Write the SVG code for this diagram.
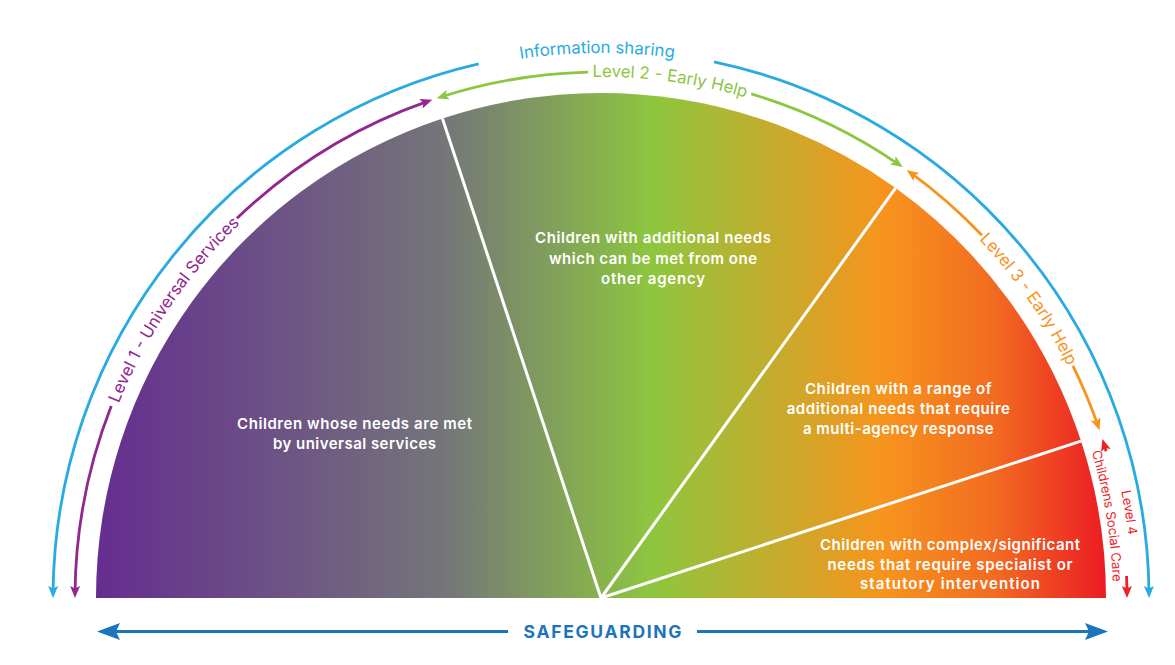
<svg xmlns="http://www.w3.org/2000/svg" width="1175" height="665" viewBox="0 0 1175 665">
<style>
.arc{fill:none;stroke-width:2.8}
.div{stroke:#fff;stroke-width:3;fill:none}
.lbl{font-family:Inter,"Noto Sans",sans-serif;font-weight:600;font-size:15px;fill:#fff;text-anchor:middle}
.cv{font-family:Inter,"Noto Sans",sans-serif;font-weight:400;font-size:16.8px;text-anchor:middle}
.sm{font-family:Inter,"Noto Sans",sans-serif;font-weight:400;font-size:13px;text-anchor:middle;fill:#ec2227}
</style>
<defs>
<linearGradient id="grad" gradientUnits="userSpaceOnUse" x1="96" y1="0" x2="1106" y2="0">
<stop offset="0" stop-color="#652d90"/>
<stop offset="0.34" stop-color="#74747a"/>
<stop offset="0.55" stop-color="#8dc63f"/>
<stop offset="0.78" stop-color="#f7941d"/>
<stop offset="0.89" stop-color="#f26b21"/>
<stop offset="1" stop-color="#ec1c24"/>
</linearGradient>
<marker id="mBlue" markerUnits="userSpaceOnUse" markerWidth="12" markerHeight="10" refX="7" refY="5" orient="auto"><path d="M0,0 L12,5 L0,10 L2.5,5 Z" fill="#29abe2"/></marker>
<marker id="mPurple" markerUnits="userSpaceOnUse" markerWidth="12" markerHeight="10" refX="7" refY="5" orient="auto"><path d="M0,0 L12,5 L0,10 L2.5,5 Z" fill="#92278f"/></marker>
<marker id="mGreen" markerUnits="userSpaceOnUse" markerWidth="12" markerHeight="10" refX="7" refY="5" orient="auto"><path d="M0,0 L12,5 L0,10 L2.5,5 Z" fill="#8dc63f"/></marker>
<marker id="mOrange" markerUnits="userSpaceOnUse" markerWidth="12" markerHeight="10" refX="7" refY="5" orient="auto"><path d="M0,0 L12,5 L0,10 L2.5,5 Z" fill="#f7941d"/></marker>
<marker id="mRed" markerUnits="userSpaceOnUse" markerWidth="12" markerHeight="10" refX="7" refY="5" orient="auto"><path d="M0,0 L12,5 L0,10 L2.5,5 Z" fill="#ec2227"/></marker>
<marker id="mSafe" markerUnits="userSpaceOnUse" markerWidth="23" markerHeight="17" refX="15" refY="8.5" orient="auto"><path d="M0,0 L23,8.5 L0,17 L4,8.5 Z" fill="#1c75bc"/></marker>
<path id="tpInfo" d="M325.21,127.93 A545 545 0 0 1 870.20,124.13"/>
<path id="tpL1" d="M88.90,507.70 A520 520 0 0 1 325.44,157.01"/>
<path id="tpL2" d="M402.46,116.31 A521 521 0 0 1 918.81,185.16"/>
<path id="tpL3" d="M821.59,126.00 A521 521 0 0 1 1120.06,553.04"/>
<path id="tpL4a" d="M1012.45,262.39 A531 531 0 0 1 1097.39,786.56"/>
<path id="tpL4b" d="M997.72,274.40 A512 512 0 0 1 1079.63,779.82"/>
</defs>

<g id="node-universal">
<path d="M601,598 L96,598 A505 505 0 0 1 442.43,118.54 Z" fill="url(#grad)"/>
<text class="lbl"><tspan x="354.5" y="429" textLength="235" lengthAdjust="spacing">Children whose needs are met</tspan><tspan x="354.5" y="448.5" textLength="163" lengthAdjust="spacing">by universal services</tspan></text>
</g>
<g id="node-one-agency">
<path d="M601,598 L442.43,118.54 A505 505 0 0 1 895.69,187.90 Z" fill="url(#grad)"/>
<text class="lbl"><tspan x="653" y="243" textLength="236" lengthAdjust="spacing">Children with additional needs</tspan><tspan x="653" y="263.5" textLength="208" lengthAdjust="spacing">which can be met from one</tspan><tspan x="653" y="284" textLength="104" lengthAdjust="spacing">other agency</tspan></text>
</g>
<g id="node-multi-agency">
<path d="M601,598 L895.69,187.90 A505 505 0 0 1 1081.01,441.11 Z" fill="url(#grad)"/>
<text class="lbl"><tspan x="898.3" y="393.5" textLength="186.7" lengthAdjust="spacing">Children with a range of</tspan><tspan x="898.3" y="413.5" textLength="223.3" lengthAdjust="spacing">additional needs that require</tspan><tspan x="898.3" y="433.5" textLength="190.7" lengthAdjust="spacing">a multi-agency response</tspan></text>
</g>
<g id="node-complex">
<path d="M601,598 L1081.01,441.11 A505 505 0 0 1 1106,598 Z" fill="url(#grad)"/>
<text class="lbl" font-size="15.5"><tspan x="950" y="550" textLength="260" lengthAdjust="spacing">Children with complex/significant</tspan><tspan x="950" y="569.5" textLength="245" lengthAdjust="spacing">needs that require specialist or</tspan><tspan x="950" y="589" textLength="180" lengthAdjust="spacing">statutory intervention</tspan></text>
</g>
<g id="dividers">
<line class="div" x1="601" y1="598" x2="442.43" y2="118.54"/>
<line class="div" x1="601" y1="598" x2="895.69" y2="187.90"/>
<line class="div" x1="601" y1="598" x2="1081.01" y2="441.11"/>
</g>

<g id="connectors">
<path class="arc" stroke="#29abe2" stroke-width="2.5" d="M478.66,63.83 A548 548 0 0 0 53.02,593.03" marker-end="url(#mBlue)"/>
<path class="arc" stroke="#29abe2" stroke-width="2.5" d="M714.00,61.80 A548 548 0 0 1 1148.98,593.03" marker-end="url(#mBlue)"/>
<path class="arc" stroke="#92278f" d="M236.93,218.35 A526 526 0 0 1 427.58,101.41" marker-end="url(#mPurple)"/>
<path class="arc" stroke="#92278f" d="M111.26,406.07 A526 526 0 0 0 75.02,593.00" marker-end="url(#mPurple)"/>
<path class="arc" stroke="#8dc63f" d="M588.15,72.16 A526 526 0 0 0 441.46,96.78" marker-end="url(#mGreen)"/>
<path class="arc" stroke="#8dc63f" d="M751.27,93.92 A526 526 0 0 1 898.61,164.29" marker-end="url(#mGreen)"/>
<path class="arc" stroke="#f7941d" d="M981.96,235.30 A526 526 0 0 0 910.78,172.89" marker-end="url(#mOrange)"/>
<path class="arc" stroke="#f7941d" d="M1072.96,365.77 A526 526 0 0 1 1097.91,425.50" marker-end="url(#mOrange)"/>
<path class="arc" stroke="#ec2227" d="M1106.11,451.25 A526 526 0 0 0 1103.87,443.74" marker-end="url(#mRed)"/>
<path class="arc" stroke="#ec2227" d="M1126.54,575.97 A526 526 0 0 1 1126.98,593.00" marker-end="url(#mRed)"/>
<path class="arc" stroke="#1c75bc" stroke-width="4" d="M508,631.5 L105,631.5" marker-end="url(#mSafe)"/>
<path class="arc" stroke="#1c75bc" stroke-width="4" d="M697,631.5 L1100,631.5" marker-end="url(#mSafe)"/>
</g>

<g id="arc-labels">
<text class="cv" fill="#29abe2" font-size="17.5"><textPath href="#tpInfo" startOffset="50%">Information sharing</textPath></text>
<text class="cv" fill="#92278f"><textPath href="#tpL1" startOffset="50%">Level 1 - Universal Services</textPath></text>
<text class="cv" fill="#8dc63f"><textPath href="#tpL2" startOffset="50%">Level 2 - Early Help</textPath></text>
<text class="cv" fill="#f7941d"><textPath href="#tpL3" startOffset="50%">Level 3 - Early Help</textPath></text>
<text class="sm"><textPath href="#tpL4a" startOffset="50%">Level 4</textPath></text>
<text class="sm"><textPath href="#tpL4b" startOffset="50%">Childrens Social Care</textPath></text>
</g>

<g id="safeguarding">
<text x="602.5" y="637.5" font-family="Inter,'Noto Sans',sans-serif" font-weight="700" font-size="17.5" fill="#1c75bc" text-anchor="middle" textLength="158" lengthAdjust="spacing">SAFEGUARDING</text>
</g>
</svg>
